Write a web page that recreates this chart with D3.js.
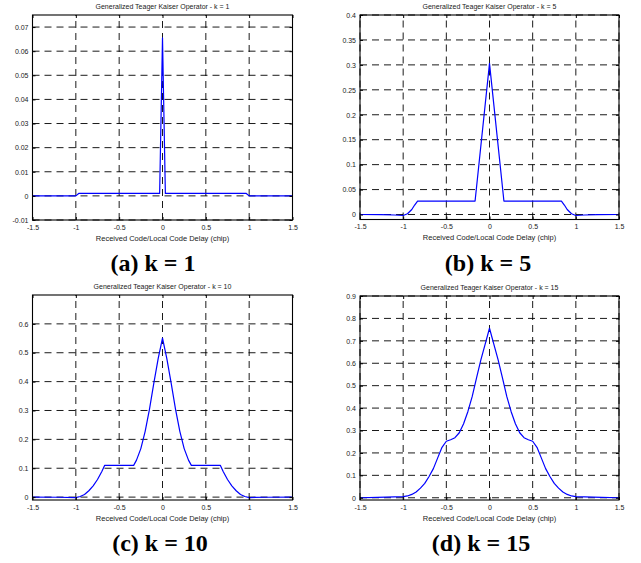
<!DOCTYPE html>
<html><head><meta charset="utf-8">
<script src="https://cdn.jsdelivr.net/npm/d3@7"></script>
<style>
html,body{margin:0;padding:0;background:#fff;}
svg{display:block;}
</style>
</head><body>
<svg id="chart" width="641" height="563"></svg>
<script>
// ---- data ----
const xTicks = [-1.5, -1, -0.5, 0, 0.5, 1, 1.5];

const titles = [
  "Generalized Teager Kaiser Operator - k = 1",
  "Generalized Teager Kaiser Operator - k = 5",
  "Generalized Teager Kaiser Operator - k = 10",
  "Generalized Teager Kaiser Operator - k = 15"
];
const captionLetters = ["(a)", "(b)", "(c)", "(d)"];
const captionK = ["k = 1", "k = 5", "k = 10", "k = 15"];
const xLabel = "Received Code/Local Code Delay (chip)";

const yTicksA = [-0.01, 0, 0.01, 0.02, 0.03, 0.04, 0.05, 0.06, 0.07];
const yTicksB = [0, 0.05, 0.1, 0.15, 0.2, 0.25, 0.3, 0.35, 0.4];
const yTicksC = [0, 0.1, 0.2, 0.3, 0.4, 0.5, 0.6];
const yTicksD = [0, 0.1, 0.2, 0.3, 0.4, 0.5, 0.6, 0.7, 0.8, 0.9];

const yDomainA = [-0.01, 0.075];
const yDomainB = [-0.01, 0.4];
const yDomainC = [-0.01, 0.7];
const yDomainD = [-0.01, 0.9];

const k1X = [-1.5, -1.0, -0.967, -0.033, 0, 0.033, 0.967, 1.0, 1.5];
const k1Y = [0, 0, 0.001, 0.001, 0.0655, 0.001, 0.001, 0, 0];

const k5X = [-1.5, -1.25, -1.1, -1.0, -0.95, -0.9, -0.867, -0.833, -0.167, 0,
             0.167, 0.833, 0.867, 0.9, 0.95, 1.0, 1.1, 1.25, 1.5];
const k5Y = [0, -0.0003, -0.001, -0.002, 0.0015, 0.01, 0.019, 0.027, 0.027, 0.303,
             0.027, 0.027, 0.019, 0.01, 0.0015, -0.002, -0.001, -0.0003, 0];

const k10X = [-1.5, -1.2, -1.0, -0.95, -0.9, -0.85, -0.8, -0.75, -0.7, -0.667,
              -0.333, -0.3, -0.25, -0.2, -0.15, -0.1, -0.05, 0,
              0.05, 0.1, 0.15, 0.2, 0.25, 0.3, 0.333,
              0.667, 0.7, 0.75, 0.8, 0.85, 0.9, 0.95, 1.0, 1.2, 1.5];
const k10Y = [0, -0.0005, -0.0015, 0.002, 0.009, 0.022, 0.039, 0.061, 0.089, 0.110,
              0.110, 0.128, 0.168, 0.228, 0.305, 0.395, 0.48, 0.551,
              0.48, 0.395, 0.305, 0.228, 0.168, 0.128, 0.110,
              0.110, 0.089, 0.061, 0.039, 0.022, 0.009, 0.002, -0.0015, -0.0005, 0];

const k15X = [-1.5, -1.3, -1.1, -1.0, -0.95, -0.9, -0.85, -0.8, -0.75, -0.7, -0.65, -0.6,
              -0.55, -0.5, -0.45, -0.4, -0.35, -0.3, -0.25, -0.2, -0.15, -0.1, -0.05, 0,
              0.05, 0.1, 0.15, 0.2, 0.25, 0.3, 0.35, 0.4, 0.45, 0.5,
              0.55, 0.6, 0.65, 0.7, 0.75, 0.8, 0.85, 0.9, 0.95, 1.0, 1.1, 1.3, 1.5];
const k15Y = [0, 0.002, 0.004, 0.005, 0.008, 0.015, 0.026, 0.043, 0.064, 0.095, 0.13, 0.178,
              0.225, 0.252, 0.259, 0.268, 0.29, 0.33, 0.385, 0.452, 0.535, 0.615, 0.685, 0.756,
              0.685, 0.615, 0.535, 0.452, 0.385, 0.33, 0.29, 0.268, 0.259, 0.252,
              0.225, 0.178, 0.13, 0.095, 0.064, 0.043, 0.026, 0.015, 0.008, 0.005, 0.004, 0.002, 0];

// ---- layout ----
const panels = [
  {xs: k1X, ys: k1Y, yTicks: yTicksA, yDom: yDomainA, box: [32.5, 292.5, 15, 220], cap: 153, capY: 271},
  {xs: k5X, ys: k5Y, yTicks: yTicksB, yDom: yDomainB, box: [360, 619, 15, 219.5], cap: 488, capY: 271},
  {xs: k10X, ys: k10Y, yTicks: yTicksC, yDom: yDomainC, box: [32.5, 292.5, 295, 500], cap: 160, capY: 551},
  {xs: k15X, ys: k15Y, yTicks: yTicksD, yDom: yDomainD, box: [360, 619, 296, 500], cap: 481, capY: 551}
];

const svg = d3.select("#chart");
const fontSans = "'Liberation Sans', Arial, sans-serif";
const fontSerif = "'Liberation Serif', 'Times New Roman', serif";

panels.forEach((p, i) => {
  const [x0, x1, y0, y1] = p.box;
  const x = d3.scaleLinear().domain([-1.5, 1.5]).range([x0, x1]);
  const y = d3.scaleLinear().domain(p.yDom).range([y1, y0]);
  const g = svg.append("g");

  // grid
  const grid = g.append("g").attr("stroke", "#000").attr("stroke-width", 0.9)
    .attr("stroke-dasharray", "7,5").attr("fill", "none");
  xTicks.forEach(t => {
    grid.append("line").attr("x1", x(t)).attr("x2", x(t)).attr("y1", y1).attr("y2", y0);
  });
  p.yTicks.forEach(t => {
    grid.append("line").attr("x1", x0).attr("x2", x1).attr("y1", y(t)).attr("y2", y(t));
  });

  // curve
  const pts = p.xs.map((v, j) => [v, p.ys[j]]);
  g.append("path").datum(pts)
    .attr("fill", "none").attr("stroke", "#0000ff").attr("stroke-width", 1.2)
    .attr("stroke-linejoin", "round")
    .attr("d", d3.line().x(d => x(d[0])).y(d => y(d[1])));

  // axes (ticks inside)
  const fmt = d => String(d);
  const axB = g.append("g").attr("transform", `translate(0,${y1})`)
    .call(d3.axisBottom(x).tickValues(xTicks).tickSize(-3).tickPadding(6).tickFormat(fmt));
  const axT = g.append("g").attr("transform", `translate(0,${y0})`)
    .call(d3.axisTop(x).tickValues(xTicks).tickSize(-3).tickFormat(""));
  const axL = g.append("g").attr("transform", `translate(${x0},0)`)
    .call(d3.axisLeft(y).tickValues(p.yTicks).tickSize(-3).tickPadding(4).tickFormat(fmt));
  const axR = g.append("g").attr("transform", `translate(${x1},0)`)
    .call(d3.axisRight(y).tickValues(p.yTicks).tickSize(-3).tickFormat(""));
  [axB, axT, axL, axR].forEach(a => {
    a.select(".domain").remove();
    a.selectAll("line").attr("stroke", "#000").attr("stroke-width", 1);
    a.selectAll("text").attr("font-family", fontSans).attr("font-size", 7).attr("fill", "#222");
  });
  axB.selectAll("text").attr("dy", "0.71em").attr("y", 5);

  // box
  g.append("rect").attr("x", x0).attr("y", y0).attr("width", x1 - x0).attr("height", y1 - y0)
    .attr("fill", "none").attr("stroke", "#000").attr("stroke-width", 1.1);

  // title
  g.append("text").attr("x", (x0 + x1) / 2).attr("y", y0 - 6)
    .attr("text-anchor", "middle").attr("font-family", fontSans).attr("font-size", 7)
    .attr("fill", "#222").text(titles[i]);

  // x label
  g.append("text").attr("x", (x0 + x1) / 2).attr("y", y1 + 20.5)
    .attr("text-anchor", "middle").attr("font-family", fontSans).attr("font-size", 7.5)
    .attr("fill", "#222").text(xLabel);

  // caption
  const cap = g.append("text").attr("x", p.cap).attr("y", p.capY)
    .attr("text-anchor", "middle").attr("font-family", fontSerif).attr("font-size", 24)
    .attr("font-weight", "bold").attr("fill", "#000");
  cap.append("tspan").text(captionLetters[i] + " ");
  cap.append("tspan").text(captionK[i]);
});
</script>
</body></html>
